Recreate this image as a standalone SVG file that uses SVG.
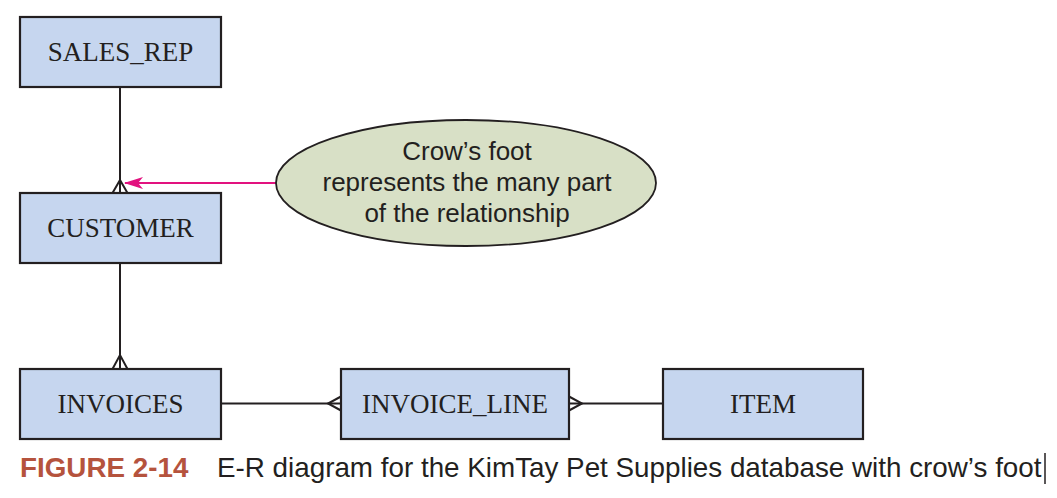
<svg xmlns="http://www.w3.org/2000/svg" width="1057" height="498" viewBox="0 0 1057 498">
<style>
.box{fill:#c6d6ef;stroke:#231f20;stroke-width:2.2}
.lbl{font-family:"Liberation Serif","Times New Roman",serif;font-size:27px;fill:#231f20;text-anchor:middle}
.line{stroke:#231f20;stroke-width:2;fill:none}
.note{font-family:"Liberation Sans",Arial,sans-serif;font-size:26px;fill:#231f20;text-anchor:middle}
.cap{font-family:"Liberation Sans",Arial,sans-serif;font-size:27.8px;fill:#231f20}
</style>
<rect width="1057" height="498" fill="#ffffff"/>
<g id="connectors">
<line class="line" x1="120" y1="87" x2="120" y2="193"/>
<path class="line" d="M112.5,193 L120,180 L127.5,193"/>
<line class="line" x1="120" y1="263" x2="120" y2="369"/>
<path class="line" d="M112.5,369 L120,355 L127.5,369"/>
<line class="line" x1="221" y1="403.5" x2="341" y2="403.5"/>
<path class="line" d="M341,396.5 L328,403.5 L341,410.5"/>
<line class="line" x1="569" y1="403.5" x2="663" y2="403.5"/>
<path class="line" d="M569,396.5 L582,403.5 L569,410.5"/>
<line x1="276" y1="183" x2="125" y2="183" stroke="#e2127f" stroke-width="2.2"/>
<path d="M124,183 L143,177 L138,183 L143,189 Z" fill="#e2127f"/>
</g>
<g id="sales_rep">
<rect class="box" x="20" y="17" width="201" height="70"/>
<text class="lbl" x="120.5" y="61">SALES_REP</text>
</g>
<g id="customer">
<rect class="box" x="20" y="193" width="201" height="70"/>
<text class="lbl" x="120.5" y="237">CUSTOMER</text>
</g>
<g id="invoices">
<rect class="box" x="20" y="369" width="201" height="70"/>
<text class="lbl" x="120.5" y="413">INVOICES</text>
</g>
<g id="invoice_line">
<rect class="box" x="341" y="369" width="228" height="70"/>
<text class="lbl" x="455" y="413">INVOICE_LINE</text>
</g>
<g id="item">
<rect class="box" x="663" y="369" width="200" height="70"/>
<text class="lbl" x="763" y="413">ITEM</text>
</g>
<g id="note">
<ellipse cx="466" cy="183" rx="190" ry="63" fill="#d8e0c6" stroke="#231f20" stroke-width="1.8"/>
<text class="note" x="467" y="160">Crow’s foot</text>
<text class="note" x="467" y="191">represents the many part</text>
<text class="note" x="467" y="222">of the relationship</text>
</g>
<g id="caption">
<text class="cap" x="20" y="477" font-weight="bold" style="fill:#b5533d">FIGURE 2-14</text>
<text class="cap" x="217" y="477">E-R diagram for the KimTay Pet Supplies database with crow’s foot</text>
<line x1="1045" y1="453" x2="1045" y2="484" stroke="#231f20" stroke-width="1.5"/>
</g>
</svg>
